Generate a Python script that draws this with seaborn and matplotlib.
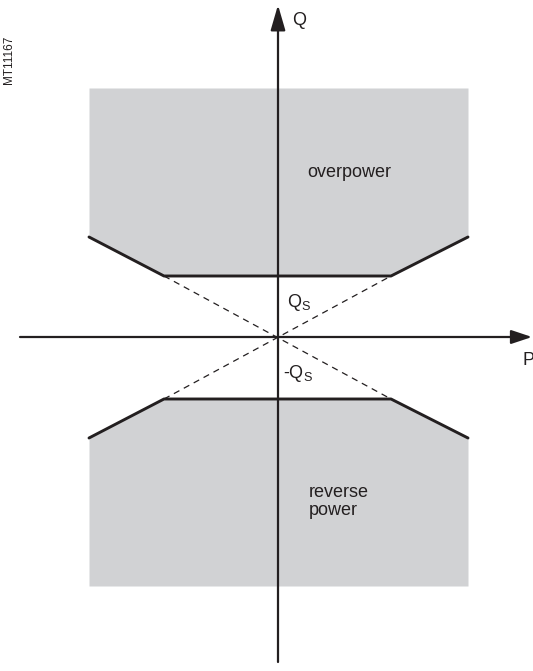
import matplotlib
matplotlib.use("Agg")
import matplotlib.pyplot as plt
import seaborn as sns
import pandas as pd

# ── DATA (P/Q plane, origin at centre) ───────────────────────────────────────
P_EDGE       = [-189, -114, 113, 190]      # boundary break points along P
Q_UPPER      = [100, 61, 61, 100]          # overpower threshold curve
Q_LOWER      = [-101, -62, -62, -101]      # reverse power threshold curve
Q_TOP        = 249                         # top of overpower zone
Q_BOTTOM     = -249                        # bottom of reverse power zone
DASH_P       = [-114, 113]
DASH_A       = [61, -62]
DASH_B       = [-62, 61]
P_AXIS       = [-258, 254]
Q_AXIS       = [-325, 332]

# ── STYLE ────────────────────────────────────────────────────────────────────
sns.set_theme(style="white")
plt.rcParams["font.family"] = ["Liberation Sans", "DejaVu Sans"]
plt.rcParams["mathtext.fontset"] = "custom"
plt.rcParams["mathtext.rm"] = "Liberation Sans"
INK  = "#231f20"
GRAY = "#d1d2d4"
FS   = 13

fig = plt.figure(figsize=(5.33, 6.71), dpi=100)
ax = fig.add_axes([0, 0, 1, 1])
ax.set_xlim(-278, 255)
ax.set_ylim(-334, 337)
ax.axis("off")

# shaded zones
ax.fill_between(P_EDGE, Q_UPPER, Q_TOP, color=GRAY, lw=0)
ax.fill_between(P_EDGE, Q_BOTTOM, Q_LOWER, color=GRAY, lw=0)

# threshold curves
curves = pd.concat([
    pd.DataFrame({"P": P_EDGE, "Q": Q_UPPER, "zone": "upper"}),
    pd.DataFrame({"P": P_EDGE, "Q": Q_LOWER, "zone": "lower"}),
])
sns.lineplot(data=curves, x="P", y="Q", units="zone", estimator=None,
             sort=False, color=INK, lw=2.1, ax=ax)

# dashed extensions through origin
for q in (DASH_A, DASH_B):
    sns.lineplot(x=DASH_P, y=q, color=INK, lw=0.9, ls=(0, (5, 4)), ax=ax)

# axes with arrows
ax.annotate("", xy=(0, Q_AXIS[1]), xytext=(0, Q_AXIS[0]),
            arrowprops=dict(arrowstyle="-|>,head_length=1.1,head_width=0.32",
                            color=INK, lw=1.6, shrinkA=0, shrinkB=0,
                            mutation_scale=14))
ax.annotate("", xy=(P_AXIS[1], 0), xytext=(P_AXIS[0], 0),
            arrowprops=dict(arrowstyle="-|>,head_length=0.9,head_width=0.3",
                            color=INK, lw=1.6, shrinkA=0, shrinkB=0,
                            mutation_scale=14))

# labels
ax.text(14, 312, "Q", fontsize=FS, color=INK, va="baseline")
ax.text(244, -28, "P", fontsize=FS, color=INK, va="baseline")
ax.text(9, 30, r"Q$_\mathrm{S}$", fontsize=FS, color=INK, va="baseline")
ax.text(5, -41, r"-Q$_\mathrm{S}$", fontsize=FS, color=INK, va="baseline")
ax.text(29, 160, "overpower", fontsize=FS, color=INK, va="baseline")
ax.text(31, -160, "reverse", fontsize=FS, color=INK, va="baseline")
ax.text(31, -178, "power", fontsize=FS, color=INK, va="baseline")
ax.text(-269, 277, "MT11167", fontsize=8.5, color=INK, rotation=90,
        ha="center", va="center")

fig.savefig("out.png", dpi=100)
